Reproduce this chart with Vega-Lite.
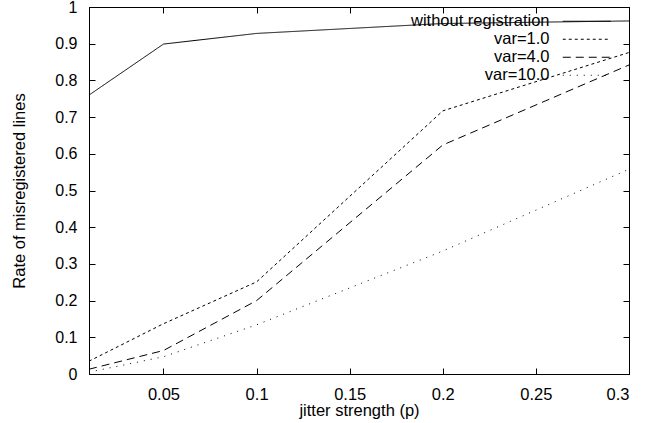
{
  "$schema": "https://vega.github.io/schema/vega-lite/v6.json",
  "width": 540,
  "height": 367,
  "autosize": "none",
  "padding": {"left": 89, "top": 7, "right": 29, "bottom": 49},
  "background": "white",
  "config": {
    "font": "Liberation Sans",
    "view": {"stroke": "black", "strokeWidth": 1},
    "axis": {"labelFont": "Liberation Sans", "titleFont": "Liberation Sans", "labelFontSize": 16.5, "titleFontSize": 16.5, "titleFontWeight": "normal", "labelColor": "black", "titleColor": "black", "domainColor": "black", "tickColor": "black", "grid": false}
  },
  "data": {
    "values": [
      {"p": 0.01, "rate": 0.76, "series": "without registration"},
      {"p": 0.05, "rate": 0.899, "series": "without registration"},
      {"p": 0.1, "rate": 0.928, "series": "without registration"},
      {"p": 0.2, "rate": 0.955, "series": "without registration"},
      {"p": 0.3, "rate": 0.962, "series": "without registration"},
      {"p": 0.01, "rate": 0.035, "series": "var=1.0"},
      {"p": 0.05, "rate": 0.137, "series": "var=1.0"},
      {"p": 0.1, "rate": 0.251, "series": "var=1.0"},
      {"p": 0.2, "rate": 0.717, "series": "var=1.0"},
      {"p": 0.3, "rate": 0.876, "series": "var=1.0"},
      {"p": 0.01, "rate": 0.013, "series": "var=4.0"},
      {"p": 0.05, "rate": 0.064, "series": "var=4.0"},
      {"p": 0.1, "rate": 0.2, "series": "var=4.0"},
      {"p": 0.2, "rate": 0.624, "series": "var=4.0"},
      {"p": 0.3, "rate": 0.842, "series": "var=4.0"},
      {"p": 0.01, "rate": 0.005, "series": "var=10.0"},
      {"p": 0.05, "rate": 0.047, "series": "var=10.0"},
      {"p": 0.1, "rate": 0.134, "series": "var=10.0"},
      {"p": 0.2, "rate": 0.335, "series": "var=10.0"},
      {"p": 0.3, "rate": 0.558, "series": "var=10.0"}
    ]
  },
  "layer": [
    {
      "mark": {"type": "line", "stroke": "black", "strokeWidth": 1, "clip": true},
      "encoding": {
        "x": {"field": "p", "type": "quantitative", "scale": {"domain": [0.01, 0.3], "nice": false, "zero": false},
          "axis": {"orient": "bottom", "values": [0.05, 0.1, 0.15, 0.2, 0.25, 0.3], "format": ".2~f", "tickSize": -6, "labelPadding": 18, "title": "jitter strength (p)", "titlePadding": 0}},
        "y": {"field": "rate", "type": "quantitative", "scale": {"domain": [0, 1], "nice": false},
          "axis": {"orient": "left", "values": [0, 0.1, 0.2, 0.3, 0.4, 0.5, 0.6, 0.7, 0.8, 0.9, 1], "format": ".1~f", "tickSize": -6, "labelPadding": 18, "labelFontSize": 16, "title": "Rate of misregistered lines", "titlePadding": 27}},
        "strokeDash": {"field": "series", "type": "nominal",
          "scale": {"domain": ["without registration", "var=1.0", "var=4.0", "var=10.0"], "range": [[1, 0], [3, 3], [8, 5], [1, 6]]},
          "legend": {"title": null, "orient": "none", "legendX": 489.5, "legendY": 6, "symbolType": "M-8,0H8", "symbolSize": 36, "symbolStrokeWidth": 1, "symbolStrokeColor": "black", "labelAlign": "right", "labelOffset": -45.5, "labelFontSize": 16.5, "labelFont": "Liberation Sans", "labelColor": "black", "rowPadding": 1, "labelLimit": 300}}
      }
    },
    {
      "mark": {"type": "rule", "opacity": 0},
      "encoding": {
        "x": {"field": "p", "type": "quantitative", "aggregate": "min",
          "axis": {"orient": "top", "values": [0.05, 0.1, 0.15, 0.2, 0.25, 0.3], "labels": false, "title": null, "tickSize": -6}},
        "y": {"field": "rate", "type": "quantitative", "aggregate": "min",
          "axis": {"orient": "right", "values": [0, 0.1, 0.2, 0.3, 0.4, 0.5, 0.6, 0.7, 0.8, 0.9, 1], "labels": false, "title": null, "tickSize": -6}}
      }
    }
  ],
  "resolve": {"axis": {"x": "independent", "y": "independent"}}
}
